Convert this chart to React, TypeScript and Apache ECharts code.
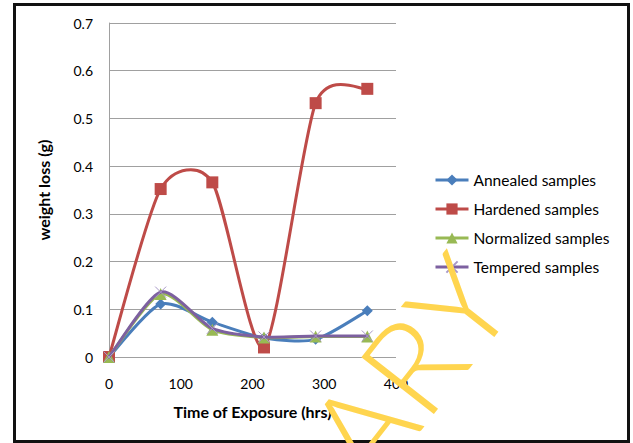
import React, { useEffect, useRef } from "react";
import * as echarts from "echarts";

const hours = [0, 72, 144, 216, 288, 360];
const annealed = [0, 0.111, 0.073, 0.04, 0.037, 0.097];
const hardened = [0, 0.352, 0.366, 0.02, 0.532, 0.562];
const normalized = [0, 0.132, 0.057, 0.041, 0.043, 0.043];
const tempered = [0, 0.136, 0.06, 0.042, 0.044, 0.044];
const seriesNames = ["Annealed samples", "Hardened samples", "Normalized samples", "Tempered samples"];
const seriesValues = [annealed, hardened, normalized, tempered];
const seriesColors = ["#4A7EBB", "#BE4B48", "#98B954", "#7D60A0"];
const xTitle = "Time of Exposure (hrs)";
const yTitle = "weight loss (g)";
const watermark = "LIBRARY";

const FONT = "Lato, 'Open Sans', sans-serif";
const TENSION = 0.125;

function pairs(ys: number[]) {
  return hours.map((h, i) => [h, ys[i]]);
}

function curveSeries(ys: number[], color: string, z: number) {
  return {
    type: "custom" as const,
    name: "curve-" + color,
    data: pairs(ys),
    encode: { x: 0, y: 1 },
    z,
    silent: true,
    renderItem: (params: any, api: any) => {
      if (params.dataIndex !== 0) return null;
      const pts = ys.map((y, i) => api.coord([hours[i], y]));
      const n = pts.length;
      const children: any[] = [];
      for (let i = 0; i < n - 1; i++) {
        const p0 = pts[Math.max(i - 1, 0)];
        const p1 = pts[i];
        const p2 = pts[i + 1];
        const p3 = pts[Math.min(i + 2, n - 1)];
        children.push({
          type: "bezierCurve",
          shape: {
            x1: p1[0],
            y1: p1[1],
            x2: p2[0],
            y2: p2[1],
            cpx1: p1[0] + (p2[0] - p0[0]) * TENSION,
            cpy1: p1[1] + (p2[1] - p0[1]) * TENSION,
            cpx2: p2[0] - (p3[0] - p1[0]) * TENSION,
            cpy2: p2[1] - (p3[1] - p1[1]) * TENSION,
          },
          style: { stroke: color, lineWidth: 3, fill: "none", lineCap: "round" },
        });
      }
      return { type: "group", children };
    },
  };
}

export default function App() {
  const ref = useRef<HTMLDivElement>(null);
  useEffect(() => {
    if (!ref.current) return;
    const chart = echarts.init(ref.current, undefined, { renderer: "svg" });
    const symbols = [
      { symbol: "diamond", symbolSize: 11 },
      { symbol: "rect", symbolSize: 12 },
      { symbol: "triangle", symbolSize: 12 },
      { symbol: "path://M0 0L10 10M10 0L0 10", symbolSize: 11 },
    ];
    const series: any[] = [];
    seriesValues.forEach((ys, i) => {
      series.push(curveSeries(ys, seriesColors[i], 2 + i * 2));
      series.push({
        type: "line",
        name: seriesNames[i],
        data: pairs(ys),
        symbol: symbols[i].symbol,
        symbolSize: symbols[i].symbolSize,
        showAllSymbol: true,
        color: seriesColors[i],
        lineStyle: { width: 3, opacity: 0 },
        itemStyle:
          i === 3
            ? { color: seriesColors[i], borderColor: "#A898C8", borderWidth: 1 }
            : { color: seriesColors[i] },
        z: 3 + i * 2,
      });
    });
    chart.setOption({
      animation: false,
      backgroundColor: "#ffffff",
      textStyle: { fontFamily: FONT },
      grid: { left: 109, top: 23, width: 287, height: 334, containLabel: false },
      xAxis: {
        type: "value",
        min: 0,
        max: 400,
        interval: 100,
        name: xTitle,
        nameLocation: "middle",
        nameGap: 46,
        nameTextStyle: { fontSize: 16, fontWeight: "bold", color: "#000", fontFamily: FONT },
        axisLine: { show: false },
        axisTick: { show: false },
        axisLabel: { fontSize: 14, color: "#000", margin: 19, fontFamily: FONT },
        splitLine: { show: false },
      },
      yAxis: {
        type: "value",
        min: 0,
        max: 0.7,
        interval: 0.1,
        name: yTitle,
        nameLocation: "middle",
        nameGap: 58,
        nameRotate: 90,
        nameTextStyle: { fontSize: 16, fontWeight: "bold", color: "#000", fontFamily: FONT },
        axisLine: { show: true, lineStyle: { color: "#a0a0a0", width: 1 } },
        axisTick: { show: false },
        axisLabel: { fontSize: 14, color: "#000", margin: 16, fontFamily: FONT },
        splitLine: { show: true, lineStyle: { color: "#a0a0a0", width: 1 } },
      },
      legend: {
        orient: "vertical",
        left: 429,
        top: 167,
        itemWidth: 33,
        itemHeight: 14,
        itemGap: 13,
        lineStyle: { opacity: 1, width: 3 },
        textStyle: { fontSize: 15.5, color: "#000", fontFamily: FONT },
        data: seriesNames,
      },
      series,
      graphic: [
        {
          type: "rect",
          shape: { x: 14.5, y: 4.5, width: 614, height: 437 },
          style: { fill: "none", stroke: "#111", lineWidth: 3 },
          z: 50,
        },
        {
          type: "text",
          x: 532,
          y: 313,
          rotation: (52 * Math.PI) / 180,
          z: 100,
          style: {
            text: watermark,
            fill: "#FFD54F",
            font: "300 130px " + FONT,
            textAlign: "right",
            textVerticalAlign: "bottom",
          },
        },
      ],
    });
    return () => chart.dispose();
  }, []);
  return (
    <div
      ref={ref}
      style={{ position: "absolute", left: 0, top: 0, width: 633, height: 443 }}
    />
  );
}
